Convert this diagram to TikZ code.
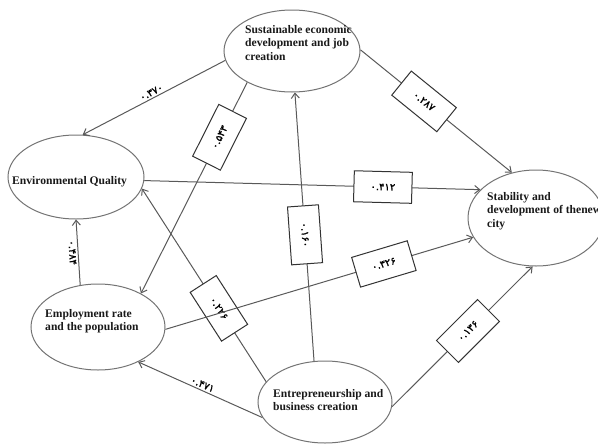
\documentclass[tikz,border=0pt]{standalone}
\usepackage{fontspec}
\usepackage{tikz}
\usetikzlibrary{shapes.geometric,arrows.meta}
\newfontfamily\fanum[Script=Arabic,FakeBold=1.5]{DejaVu Sans}
\newfontfamily\ftimes{Liberation Serif}

\begin{document}
\begin{tikzpicture}[x=1pt,y=-1pt]
    \tikzstyle{factor} = [ellipse, draw=black!55, line width=1pt, minimum width=136pt, minimum height=82pt, inner sep=0pt]
    \tikzstyle{ftext} = [anchor=west, align=left, inner sep=0pt, text=black!90, font=\ftimes\bfseries\fontsize{11.6}{13.5}\selectfont]
    \tikzstyle{link} = [draw=black!65, line width=1pt, -{Straight Barb[length=5pt,width=8pt]}]
    \tikzstyle{coef} = [rectangle, draw=black!80, fill=white, line width=1pt, minimum width=58pt, minimum height=31pt, sloped, font=\fanum\fontsize{10}{12}\selectfont]
    \tikzstyle{lbl} = [sloped, inner sep=2pt, font=\fanum\fontsize{10}{12}\selectfont]
    \useasboundingbox (0,0) rectangle (598,445);

    % factors
    \node[factor] (sust) at (292,51) {};
    \node[factor, minimum height=84pt] (env) at (76,177) {};
    \node[factor, minimum width=134pt, minimum height=86pt] (emp) at (98,327) {};
    \node[factor, minimum width=134pt] (ent) at (325,402) {};
    \node[factor, minimum height=96pt] (stab) at (536,218) {};

    \node[ftext] (sust-t) at (245,43) {Sustainable economic\\development and job\\creation};
    \node[ftext] (env-t) at (12,182) {Environmental Quality};
    \node[ftext] (emp-t) at (45,321) {Employment rate\\and the population};
    \node[ftext] (ent-t) at (273,400) {Entrepreneurship and\\business creation};
    \node[ftext] (stab-t) at (487,211) {Stability and\\development of thenew\\city};

    % paths
    \draw[link] (sust.188) -- (env.81) node[lbl, above, pos=0.5] {۰.۳۷۰};
    \draw[link] (sust.215) -- (emp.38) node[coef, pos=0.26] {۰.۵۴۳};
    \draw[link] (sust.1) -- (stab.118) node[coef, pos=0.42] {۰.۲۸۷};
    \draw[link] (env.357) -- (stab.153) node[coef, pos=0.71] {۰.۴۱۲};
    \draw[link] (emp.113) -- (env.270) node[lbl, below, pos=0.5] {۰.۴۸۴};
    \draw[link] (ent.161) -- (env.350) node[coef, pos=0.38] {۰.۲۲۶};
    \draw[link] (emp.358) -- (stab.197) node[coef, pos=0.71] {۰.۳۲۶};
    \draw[link] (ent.194) -- (emp.319) node[lbl, above, pos=0.5] {۰.۴۷۱};
    \draw[link] (ent.105) -- (sust.274) node[coef, pos=0.47] {۰.۱۶۰};
    \draw[link] (ent.356) -- (stab.266) node[coef, pos=0.54] {۰.۱۳۶};
\end{tikzpicture}
\end{document}
